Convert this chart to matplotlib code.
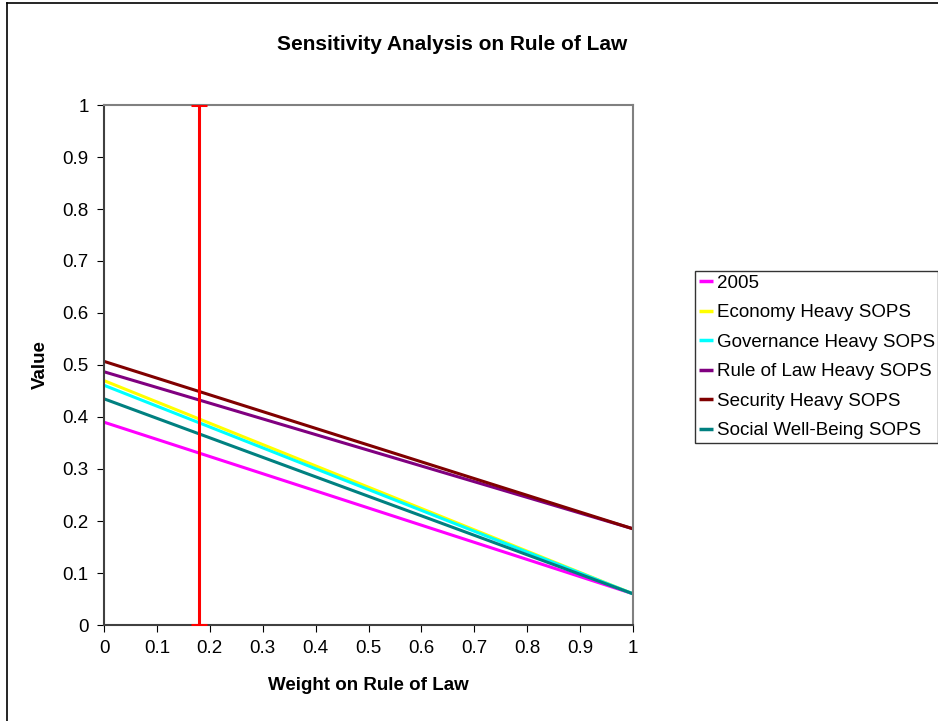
import numpy as np
from matplotlib import pyplot as plt
from matplotlib.lines import Line2D

# weight on rule of law (x) and SOPS values at both ends
weights = [0.0, 1.0]
series_names = ['2005', 'Economy Heavy SOPS', 'Governance Heavy SOPS',
                'Rule of Law Heavy SOPS', 'Security Heavy SOPS', 'Social Well-Being SOPS']
series_values = [
    [0.390, 0.060],
    [0.470, 0.060],
    [0.461, 0.060],
    [0.487, 0.185],
    [0.507, 0.185],
    [0.435, 0.060],
]
series_colors = ['#ff00ff', '#ffff00', '#00ffff', '#800080', '#800000', '#008080']
current_weight = 0.18
ticks = np.round(np.arange(0, 1.01, 0.1), 1)
tick_labels = ['0' if t == 0 else ('1' if t == 1 else f'{t:g}') for t in ticks]

plt.rcParams['font.family'] = ['Liberation Sans', 'DejaVu Sans']

fig = plt.figure(figsize=(9.38, 7.21), dpi=100)
ax = fig.add_axes([104 / 938, 1 - 625 / 721, (633 - 104) / 938, (625 - 105) / 721])

for name, vals, col in zip(series_names, series_values, series_colors):
    ax.plot(weights, vals, '-', color=col, lw=2.2, label=name, solid_capstyle='butt')

ax.errorbar([current_weight], [0.5], yerr=[[0.5], [0.5]], color='red', lw=2.2,
            capsize=6, capthick=2.2, zorder=5)

ax.set_xlim(0, 1)
ax.set_ylim(0, 1)
ax.set_xticks(ticks)
ax.set_xticklabels(tick_labels)
ax.set_yticks(ticks)
ax.set_yticklabels(tick_labels)
ax.tick_params(direction='out', length=5, labelsize=13.5, colors='black', pad=6)
for s in ['left', 'bottom']:
    ax.spines[s].set_color('#404040')
for s in ['top', 'right']:
    ax.spines[s].set_color('#808080')
for s in ax.spines.values():
    s.set_linewidth(1.5)

ax.set_xlabel('Weight on Rule of Law', fontsize=13.5, fontweight='bold', labelpad=14)
ax.set_ylabel('Value', fontsize=13.5, fontweight='bold', labelpad=10)
fig.text(277 / 938, 1 - 44 / 721, 'Sensitivity Analysis on Rule of Law',
         ha='left', va='center', fontsize=15, fontweight='bold')

leg = ax.legend(loc='upper left', bbox_to_anchor=(695 / 938, 1 - 271 / 721),
                bbox_transform=fig.transFigure, frameon=True, fancybox=False,
                fontsize=13.5, handlelength=0.75, handletextpad=0.2, borderpad=0.2,
                borderaxespad=0, labelspacing=0.66)
leg.get_frame().set_edgecolor('black')
leg.get_frame().set_linewidth(1.0)
for h in leg.get_lines():
    h.set_linewidth(2.5)

# outer chart border (left and top visible)
fig.add_artist(Line2D([7 / 938, 7 / 938], [0, 1 - 3 / 721], color='black', lw=1.2,
                      transform=fig.transFigure))
fig.add_artist(Line2D([7 / 938, 1], [1 - 3 / 721, 1 - 3 / 721], color='black', lw=1.2,
                      transform=fig.transFigure))

fig.savefig('out.png', dpi=100)
